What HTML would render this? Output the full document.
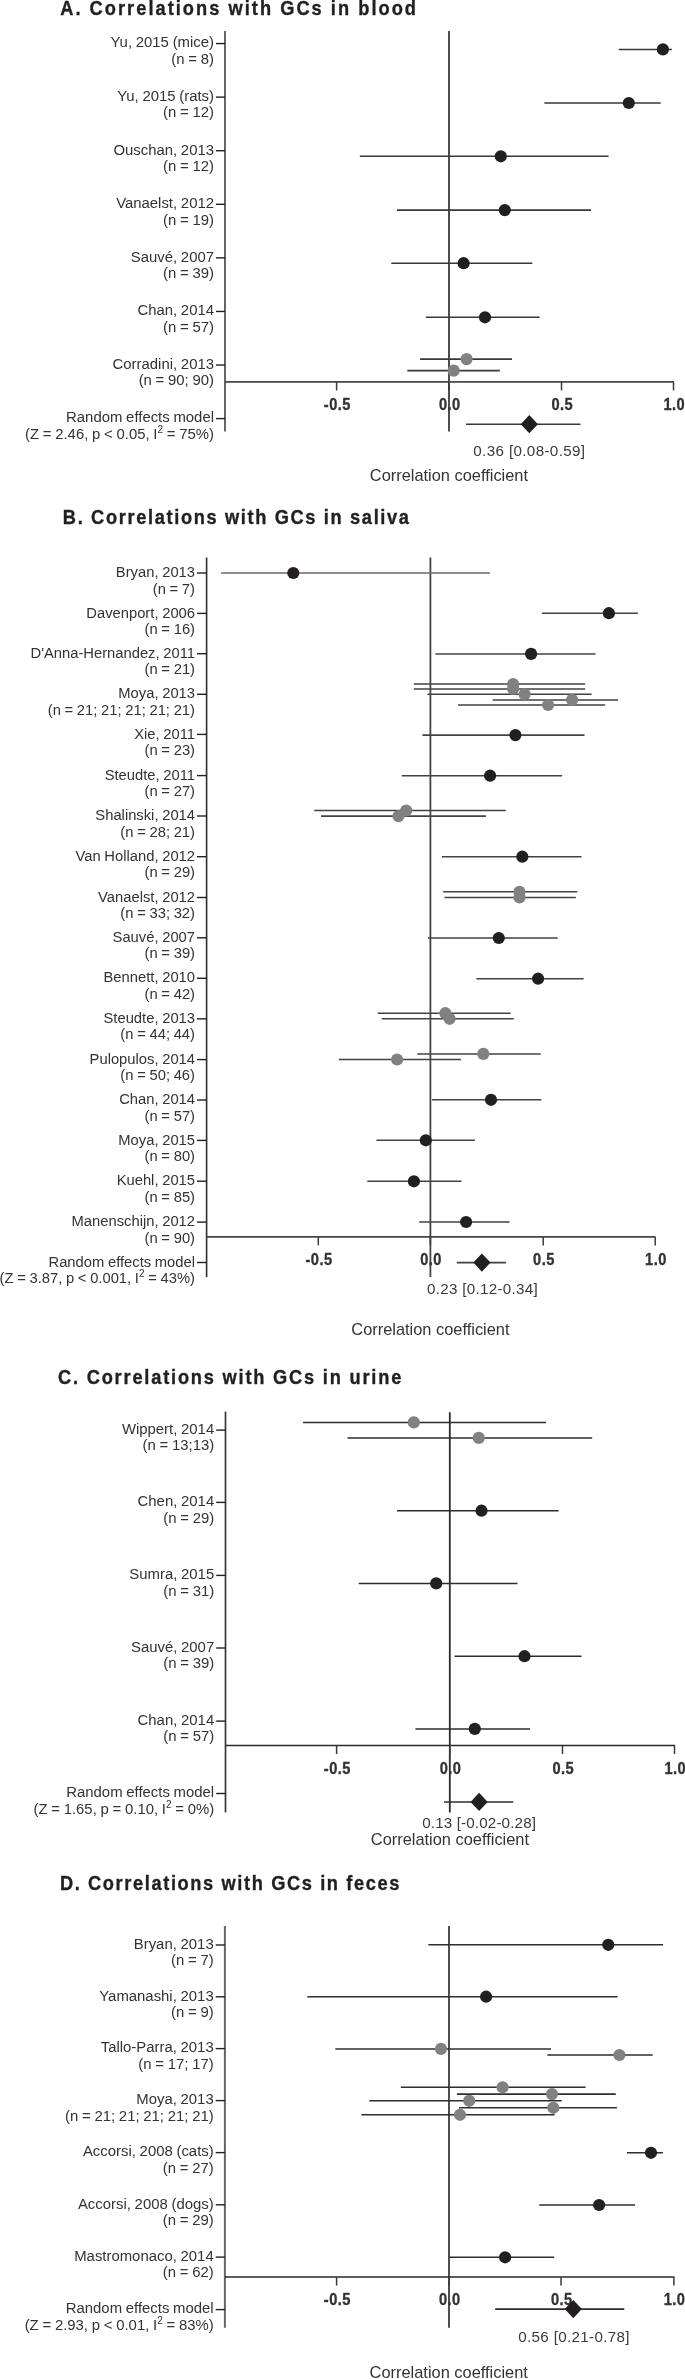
<!DOCTYPE html>
<html><head><meta charset="utf-8"><style>
html,body{margin:0;padding:0;background:#fff;}
body{width:685px;height:2379px;overflow:hidden;}
svg{display:block;font-family:"Liberation Sans",sans-serif;filter:blur(0.35px);}
</style></head><body>
<svg width="685" height="2379" viewBox="0 0 685 2379">
<rect width="685" height="2379" fill="#fff"/>
<text transform="translate(60.2,14.8) scale(0.94,1)" text-anchor="start" style="font-size:19.4px;font-weight:bold;stroke:#231f20;stroke-width:0.35px;letter-spacing:2.168px;" fill="#231f20">A. Correlations with GCs in blood</text>
<line x1="225" y1="31" x2="225" y2="431.5" stroke="#666" stroke-width="2.0"/>
<line x1="449" y1="31" x2="449" y2="431.5" stroke="#3a3a3a" stroke-width="1.8"/>
<line x1="225" y1="381.9" x2="674" y2="381.9" stroke="#484848" stroke-width="1.7"/>
<line x1="336.6" y1="381.9" x2="336.6" y2="390.4" stroke="#3a3a3a" stroke-width="1.5"/>
<text transform="translate(337.3,409.5) scale(0.87,1)" text-anchor="middle" style="font-size:16.8px;font-weight:bold;stroke:#333333;stroke-width:0.35px;letter-spacing:0.5px;" fill="#333333">-0.5</text>
<line x1="449" y1="381.9" x2="449" y2="390.4" stroke="#3a3a3a" stroke-width="1.5"/>
<text transform="translate(449.7,409.5) scale(0.87,1)" text-anchor="middle" style="font-size:16.8px;font-weight:bold;stroke:#333333;stroke-width:0.35px;letter-spacing:0.5px;" fill="#333333">0.0</text>
<line x1="561.5" y1="381.9" x2="561.5" y2="390.4" stroke="#3a3a3a" stroke-width="1.5"/>
<text transform="translate(562.2,409.5) scale(0.87,1)" text-anchor="middle" style="font-size:16.8px;font-weight:bold;stroke:#333333;stroke-width:0.35px;letter-spacing:0.5px;" fill="#333333">0.5</text>
<line x1="673.5" y1="381.9" x2="673.5" y2="390.4" stroke="#3a3a3a" stroke-width="1.5"/>
<text transform="translate(674.2,409.5) scale(0.87,1)" text-anchor="middle" style="font-size:16.8px;font-weight:bold;stroke:#333333;stroke-width:0.35px;letter-spacing:0.5px;" fill="#333333">1.0</text>
<line x1="216" y1="43.55" x2="225" y2="43.55" stroke="#231f20" stroke-width="1.4"/>
<text x="214" y="47.349999999999994" text-anchor="end" style="font-size:14.9px;font-weight:normal;word-spacing:-0.4px;" fill="#333333">Yu, 2015 (mice)</text>
<text x="214" y="63.849999999999994" text-anchor="end" style="font-size:14.9px;font-weight:normal;word-spacing:-0.4px;" fill="#333333">(n = 8)</text>
<line x1="216" y1="97.13" x2="225" y2="97.13" stroke="#231f20" stroke-width="1.4"/>
<text x="214" y="100.92999999999999" text-anchor="end" style="font-size:14.9px;font-weight:normal;word-spacing:-0.4px;" fill="#333333">Yu, 2015 (rats)</text>
<text x="214" y="117.42999999999999" text-anchor="end" style="font-size:14.9px;font-weight:normal;word-spacing:-0.4px;" fill="#333333">(n = 12)</text>
<line x1="216" y1="150.71" x2="225" y2="150.71" stroke="#231f20" stroke-width="1.4"/>
<text x="214" y="154.51000000000002" text-anchor="end" style="font-size:14.9px;font-weight:normal;word-spacing:-0.4px;" fill="#333333">Ouschan, 2013</text>
<text x="214" y="171.01000000000002" text-anchor="end" style="font-size:14.9px;font-weight:normal;word-spacing:-0.4px;" fill="#333333">(n = 12)</text>
<line x1="216" y1="204.29" x2="225" y2="204.29" stroke="#231f20" stroke-width="1.4"/>
<text x="214" y="208.09" text-anchor="end" style="font-size:14.9px;font-weight:normal;word-spacing:-0.4px;" fill="#333333">Vanaelst, 2012</text>
<text x="214" y="224.59" text-anchor="end" style="font-size:14.9px;font-weight:normal;word-spacing:-0.4px;" fill="#333333">(n = 19)</text>
<line x1="216" y1="257.87" x2="225" y2="257.87" stroke="#231f20" stroke-width="1.4"/>
<text x="214" y="261.67" text-anchor="end" style="font-size:14.9px;font-weight:normal;word-spacing:-0.4px;" fill="#333333">Sauvé, 2007</text>
<text x="214" y="278.17" text-anchor="end" style="font-size:14.9px;font-weight:normal;word-spacing:-0.4px;" fill="#333333">(n = 39)</text>
<line x1="216" y1="311.45" x2="225" y2="311.45" stroke="#231f20" stroke-width="1.4"/>
<text x="214" y="315.25" text-anchor="end" style="font-size:14.9px;font-weight:normal;word-spacing:-0.4px;" fill="#333333">Chan, 2014</text>
<text x="214" y="331.75" text-anchor="end" style="font-size:14.9px;font-weight:normal;word-spacing:-0.4px;" fill="#333333">(n = 57)</text>
<line x1="216" y1="365.03" x2="225" y2="365.03" stroke="#231f20" stroke-width="1.4"/>
<text x="214" y="368.83" text-anchor="end" style="font-size:14.9px;font-weight:normal;word-spacing:-0.4px;" fill="#333333">Corradini, 2013</text>
<text x="214" y="385.33" text-anchor="end" style="font-size:14.9px;font-weight:normal;word-spacing:-0.4px;" fill="#333333">(n = 90; 90)</text>
<line x1="216" y1="418.61" x2="225" y2="418.61" stroke="#231f20" stroke-width="1.4"/>
<text x="214" y="422.41" text-anchor="end" style="font-size:14.9px;font-weight:normal;word-spacing:-0.4px;" fill="#333333">Random effects model</text>
<text x="214" y="438.91" text-anchor="end" style="font-size:14.9px;font-weight:normal;word-spacing:-0.4px;" fill="#333333">(Z = 2.46, p &lt; 0.05, I<tspan dy="-6" font-size="10">2</tspan><tspan dy="6"> = 75%)</tspan></text>
<line x1="618.8" y1="49.4" x2="671.9" y2="49.4" stroke="#383838" stroke-width="1.55"/>
<line x1="544.4" y1="103" x2="660.7" y2="103" stroke="#383838" stroke-width="1.55"/>
<line x1="359.8" y1="156.3" x2="608.6" y2="156.3" stroke="#383838" stroke-width="1.55"/>
<line x1="397" y1="210.1" x2="591" y2="210.1" stroke="#383838" stroke-width="1.55"/>
<line x1="391.3" y1="263.2" x2="532.4" y2="263.2" stroke="#383838" stroke-width="1.55"/>
<line x1="425.9" y1="317.3" x2="539.6" y2="317.3" stroke="#383838" stroke-width="1.55"/>
<line x1="420.1" y1="359.1" x2="512" y2="359.1" stroke="#383838" stroke-width="1.55"/>
<line x1="407.3" y1="370.6" x2="499.8" y2="370.6" stroke="#383838" stroke-width="1.55"/>
<circle cx="662.9" cy="49.4" r="6.1" fill="#231f20"/>
<circle cx="628.8" cy="103" r="6.1" fill="#231f20"/>
<circle cx="500.8" cy="156.3" r="6.1" fill="#231f20"/>
<circle cx="504.8" cy="210.1" r="6.1" fill="#231f20"/>
<circle cx="463.6" cy="263.2" r="6.1" fill="#231f20"/>
<circle cx="485" cy="317.3" r="6.1" fill="#231f20"/>
<circle cx="466.6" cy="359.1" r="6.1" fill="#818184"/>
<circle cx="453.7" cy="370.6" r="6.1" fill="#818184"/>
<line x1="466" y1="424.2" x2="580.5" y2="424.2" stroke="#383838" stroke-width="1.55"/>
<polygon points="520.6999999999999,424.2 529.3,415.09999999999997 537.9,424.2 529.3,433.3" fill="#231f20"/>
<text x="473.3" y="456.3" text-anchor="start" style="font-size:15.2px;font-weight:normal;letter-spacing:0.36px;" fill="#3a3a3a">0.36 [0.08-0.59]</text>
<text x="369.8" y="481" text-anchor="start" style="font-size:16.4px;font-weight:normal;" fill="#333333">Correlation coefficient</text>
<text transform="translate(62.85,524.0) scale(0.94,1)" text-anchor="start" style="font-size:19.4px;font-weight:bold;stroke:#231f20;stroke-width:0.35px;letter-spacing:1.757px;" fill="#231f20">B. Correlations with GCs in saliva</text>
<line x1="206.6" y1="557.5" x2="206.6" y2="1277" stroke="#2e2e2e" stroke-width="1.6"/>
<line x1="430.4" y1="557.5" x2="430.4" y2="1277" stroke="#444" stroke-width="1.8"/>
<line x1="206.6" y1="1236.9" x2="655.5" y2="1236.9" stroke="#444" stroke-width="1.7"/>
<line x1="318.3" y1="1236.9" x2="318.3" y2="1245.4" stroke="#3a3a3a" stroke-width="1.5"/>
<text transform="translate(319.0,1265) scale(0.87,1)" text-anchor="middle" style="font-size:16.8px;font-weight:bold;stroke:#333333;stroke-width:0.35px;letter-spacing:0.5px;" fill="#333333">-0.5</text>
<line x1="430.4" y1="1236.9" x2="430.4" y2="1245.4" stroke="#3a3a3a" stroke-width="1.5"/>
<text transform="translate(431.09999999999997,1265) scale(0.87,1)" text-anchor="middle" style="font-size:16.8px;font-weight:bold;stroke:#333333;stroke-width:0.35px;letter-spacing:0.5px;" fill="#333333">0.0</text>
<line x1="543.2" y1="1236.9" x2="543.2" y2="1245.4" stroke="#3a3a3a" stroke-width="1.5"/>
<text transform="translate(543.9000000000001,1265) scale(0.87,1)" text-anchor="middle" style="font-size:16.8px;font-weight:bold;stroke:#333333;stroke-width:0.35px;letter-spacing:0.5px;" fill="#333333">0.5</text>
<line x1="655.2" y1="1236.9" x2="655.2" y2="1245.4" stroke="#3a3a3a" stroke-width="1.5"/>
<text transform="translate(655.9000000000001,1265) scale(0.87,1)" text-anchor="middle" style="font-size:16.8px;font-weight:bold;stroke:#333333;stroke-width:0.35px;letter-spacing:0.5px;" fill="#333333">1.0</text>
<line x1="197" y1="573.0" x2="206.6" y2="573.0" stroke="#231f20" stroke-width="1.4"/>
<text x="195" y="577.1" text-anchor="end" style="font-size:14.75px;font-weight:normal;word-spacing:-0.4px;" fill="#333333">Bryan, 2013</text>
<text x="195" y="593.6" text-anchor="end" style="font-size:14.75px;font-weight:normal;word-spacing:-0.4px;" fill="#333333">(n = 7)</text>
<line x1="197" y1="613.4" x2="206.6" y2="613.4" stroke="#231f20" stroke-width="1.4"/>
<text x="195" y="617.5" text-anchor="end" style="font-size:14.75px;font-weight:normal;word-spacing:-0.4px;" fill="#333333">Davenport, 2006</text>
<text x="195" y="634.0" text-anchor="end" style="font-size:14.75px;font-weight:normal;word-spacing:-0.4px;" fill="#333333">(n = 16)</text>
<line x1="197" y1="653.7" x2="206.6" y2="653.7" stroke="#231f20" stroke-width="1.4"/>
<text x="195" y="657.8000000000001" text-anchor="end" style="font-size:14.75px;font-weight:normal;word-spacing:-0.4px;" fill="#333333">D'Anna-Hernandez, 2011</text>
<text x="195" y="674.3000000000001" text-anchor="end" style="font-size:14.75px;font-weight:normal;word-spacing:-0.4px;" fill="#333333">(n = 21)</text>
<line x1="197" y1="694.3" x2="206.6" y2="694.3" stroke="#231f20" stroke-width="1.4"/>
<text x="195" y="698.4" text-anchor="end" style="font-size:14.75px;font-weight:normal;word-spacing:-0.4px;" fill="#333333">Moya, 2013</text>
<text x="195" y="714.9" text-anchor="end" style="font-size:14.75px;font-weight:normal;word-spacing:-0.4px;" fill="#333333">(n = 21; 21; 21; 21; 21)</text>
<line x1="197" y1="734.4" x2="206.6" y2="734.4" stroke="#231f20" stroke-width="1.4"/>
<text x="195" y="738.5" text-anchor="end" style="font-size:14.75px;font-weight:normal;word-spacing:-0.4px;" fill="#333333">Xie, 2011</text>
<text x="195" y="755.0" text-anchor="end" style="font-size:14.75px;font-weight:normal;word-spacing:-0.4px;" fill="#333333">(n = 23)</text>
<line x1="197" y1="775.6" x2="206.6" y2="775.6" stroke="#231f20" stroke-width="1.4"/>
<text x="195" y="779.7" text-anchor="end" style="font-size:14.75px;font-weight:normal;word-spacing:-0.4px;" fill="#333333">Steudte, 2011</text>
<text x="195" y="796.2" text-anchor="end" style="font-size:14.75px;font-weight:normal;word-spacing:-0.4px;" fill="#333333">(n = 27)</text>
<line x1="197" y1="816.0" x2="206.6" y2="816.0" stroke="#231f20" stroke-width="1.4"/>
<text x="195" y="820.1" text-anchor="end" style="font-size:14.75px;font-weight:normal;word-spacing:-0.4px;" fill="#333333">Shalinski, 2014</text>
<text x="195" y="836.6" text-anchor="end" style="font-size:14.75px;font-weight:normal;word-spacing:-0.4px;" fill="#333333">(n = 28; 21)</text>
<line x1="197" y1="856.7" x2="206.6" y2="856.7" stroke="#231f20" stroke-width="1.4"/>
<text x="195" y="860.8000000000001" text-anchor="end" style="font-size:14.75px;font-weight:normal;word-spacing:-0.4px;" fill="#333333">Van Holland, 2012</text>
<text x="195" y="877.3000000000001" text-anchor="end" style="font-size:14.75px;font-weight:normal;word-spacing:-0.4px;" fill="#333333">(n = 29)</text>
<line x1="197" y1="897.5" x2="206.6" y2="897.5" stroke="#231f20" stroke-width="1.4"/>
<text x="195" y="901.6" text-anchor="end" style="font-size:14.75px;font-weight:normal;word-spacing:-0.4px;" fill="#333333">Vanaelst, 2012</text>
<text x="195" y="918.1" text-anchor="end" style="font-size:14.75px;font-weight:normal;word-spacing:-0.4px;" fill="#333333">(n = 33; 32)</text>
<line x1="197" y1="937.8" x2="206.6" y2="937.8" stroke="#231f20" stroke-width="1.4"/>
<text x="195" y="941.9" text-anchor="end" style="font-size:14.75px;font-weight:normal;word-spacing:-0.4px;" fill="#333333">Sauvé, 2007</text>
<text x="195" y="958.4" text-anchor="end" style="font-size:14.75px;font-weight:normal;word-spacing:-0.4px;" fill="#333333">(n = 39)</text>
<line x1="197" y1="978.3" x2="206.6" y2="978.3" stroke="#231f20" stroke-width="1.4"/>
<text x="195" y="982.4" text-anchor="end" style="font-size:14.75px;font-weight:normal;word-spacing:-0.4px;" fill="#333333">Bennett, 2010</text>
<text x="195" y="998.9" text-anchor="end" style="font-size:14.75px;font-weight:normal;word-spacing:-0.4px;" fill="#333333">(n = 42)</text>
<line x1="197" y1="1018.85" x2="206.6" y2="1018.85" stroke="#231f20" stroke-width="1.4"/>
<text x="195" y="1022.95" text-anchor="end" style="font-size:14.75px;font-weight:normal;word-spacing:-0.4px;" fill="#333333">Steudte, 2013</text>
<text x="195" y="1039.45" text-anchor="end" style="font-size:14.75px;font-weight:normal;word-spacing:-0.4px;" fill="#333333">(n = 44; 44)</text>
<line x1="197" y1="1059.6" x2="206.6" y2="1059.6" stroke="#231f20" stroke-width="1.4"/>
<text x="195" y="1063.6999999999998" text-anchor="end" style="font-size:14.75px;font-weight:normal;word-spacing:-0.4px;" fill="#333333">Pulopulos, 2014</text>
<text x="195" y="1080.1999999999998" text-anchor="end" style="font-size:14.75px;font-weight:normal;word-spacing:-0.4px;" fill="#333333">(n = 50; 46)</text>
<line x1="197" y1="1100.0" x2="206.6" y2="1100.0" stroke="#231f20" stroke-width="1.4"/>
<text x="195" y="1104.1" text-anchor="end" style="font-size:14.75px;font-weight:normal;word-spacing:-0.4px;" fill="#333333">Chan, 2014</text>
<text x="195" y="1120.6" text-anchor="end" style="font-size:14.75px;font-weight:normal;word-spacing:-0.4px;" fill="#333333">(n = 57)</text>
<line x1="197" y1="1140.4" x2="206.6" y2="1140.4" stroke="#231f20" stroke-width="1.4"/>
<text x="195" y="1144.5" text-anchor="end" style="font-size:14.75px;font-weight:normal;word-spacing:-0.4px;" fill="#333333">Moya, 2015</text>
<text x="195" y="1161.0" text-anchor="end" style="font-size:14.75px;font-weight:normal;word-spacing:-0.4px;" fill="#333333">(n = 80)</text>
<line x1="197" y1="1181.2" x2="206.6" y2="1181.2" stroke="#231f20" stroke-width="1.4"/>
<text x="195" y="1185.3" text-anchor="end" style="font-size:14.75px;font-weight:normal;word-spacing:-0.4px;" fill="#333333">Kuehl, 2015</text>
<text x="195" y="1201.8" text-anchor="end" style="font-size:14.75px;font-weight:normal;word-spacing:-0.4px;" fill="#333333">(n = 85)</text>
<line x1="197" y1="1222.1" x2="206.6" y2="1222.1" stroke="#231f20" stroke-width="1.4"/>
<text x="195" y="1226.1999999999998" text-anchor="end" style="font-size:14.75px;font-weight:normal;word-spacing:-0.4px;" fill="#333333">Manenschijn, 2012</text>
<text x="195" y="1242.6999999999998" text-anchor="end" style="font-size:14.75px;font-weight:normal;word-spacing:-0.4px;" fill="#333333">(n = 90)</text>
<line x1="197" y1="1262.5" x2="206.6" y2="1262.5" stroke="#231f20" stroke-width="1.4"/>
<text x="195" y="1266.6" text-anchor="end" style="font-size:14.75px;font-weight:normal;word-spacing:-0.4px;" fill="#333333">Random effects model</text>
<text x="195" y="1283.1" text-anchor="end" style="font-size:14.75px;font-weight:normal;word-spacing:-0.4px;" fill="#333333">(Z = 3.87, p &lt; 0.001, I<tspan dy="-6" font-size="10">2</tspan><tspan dy="6"> = 43%)</tspan></text>
<line x1="221" y1="573" x2="490" y2="573" stroke="#6a6a6a" stroke-width="1.55"/>
<line x1="541.9" y1="613.2" x2="637.9" y2="613.2" stroke="#424242" stroke-width="1.55"/>
<line x1="435.4" y1="653.9" x2="595.5" y2="653.9" stroke="#424242" stroke-width="1.55"/>
<line x1="413.8" y1="684.0" x2="585.2" y2="684.0" stroke="#424242" stroke-width="1.55"/>
<line x1="413.8" y1="688.9" x2="585.2" y2="688.9" stroke="#424242" stroke-width="1.55"/>
<line x1="427.4" y1="694.3" x2="591.7" y2="694.3" stroke="#424242" stroke-width="1.55"/>
<line x1="492.6" y1="699.9" x2="618.0" y2="699.9" stroke="#424242" stroke-width="1.55"/>
<line x1="458.1" y1="705.0" x2="605.2" y2="705.0" stroke="#424242" stroke-width="1.55"/>
<line x1="422.4" y1="735.1" x2="584.5" y2="735.1" stroke="#424242" stroke-width="1.55"/>
<line x1="401.8" y1="775.7" x2="562.1" y2="775.7" stroke="#424242" stroke-width="1.55"/>
<line x1="314.2" y1="810.5" x2="505.8" y2="810.5" stroke="#424242" stroke-width="1.55"/>
<line x1="321" y1="816.1" x2="485.9" y2="816.1" stroke="#424242" stroke-width="1.55"/>
<line x1="442" y1="856.7" x2="581.5" y2="856.7" stroke="#424242" stroke-width="1.55"/>
<line x1="443.1" y1="891.8" x2="577.3" y2="891.8" stroke="#424242" stroke-width="1.55"/>
<line x1="444.5" y1="897.4" x2="575.9" y2="897.4" stroke="#424242" stroke-width="1.55"/>
<line x1="428" y1="938" x2="557.7" y2="938" stroke="#424242" stroke-width="1.55"/>
<line x1="476.4" y1="978.7" x2="583.6" y2="978.7" stroke="#424242" stroke-width="1.55"/>
<line x1="377.8" y1="1013.2" x2="510.6" y2="1013.2" stroke="#424242" stroke-width="1.55"/>
<line x1="381.7" y1="1018.8" x2="513.8" y2="1018.8" stroke="#424242" stroke-width="1.55"/>
<line x1="417.4" y1="1053.9" x2="540.7" y2="1053.9" stroke="#424242" stroke-width="1.55"/>
<line x1="338.9" y1="1059.5" x2="460.9" y2="1059.5" stroke="#424242" stroke-width="1.55"/>
<line x1="432.1" y1="1099.8" x2="541.4" y2="1099.8" stroke="#424242" stroke-width="1.55"/>
<line x1="376.4" y1="1140.3" x2="474.9" y2="1140.3" stroke="#424242" stroke-width="1.55"/>
<line x1="367.3" y1="1181.3" x2="461.6" y2="1181.3" stroke="#424242" stroke-width="1.55"/>
<line x1="419.2" y1="1222" x2="509.6" y2="1222" stroke="#424242" stroke-width="1.55"/>
<circle cx="293.3" cy="573" r="6.1" fill="#231f20"/>
<circle cx="608.9" cy="613.2" r="6.1" fill="#231f20"/>
<circle cx="531.1" cy="653.9" r="6.1" fill="#231f20"/>
<circle cx="513.1" cy="684.0" r="6.1" fill="#818184"/>
<circle cx="513.1" cy="688.9" r="6.1" fill="#818184"/>
<circle cx="524.6" cy="694.3" r="6.1" fill="#818184"/>
<circle cx="572.1" cy="699.9" r="6.1" fill="#818184"/>
<circle cx="548.1" cy="705.0" r="6.1" fill="#818184"/>
<circle cx="515.4" cy="735.1" r="6.1" fill="#231f20"/>
<circle cx="490.1" cy="775.7" r="6.1" fill="#231f20"/>
<circle cx="406.2" cy="810.5" r="6.1" fill="#818184"/>
<circle cx="398.5" cy="816.1" r="6.1" fill="#818184"/>
<circle cx="522.3" cy="856.7" r="6.1" fill="#231f20"/>
<circle cx="519.5" cy="891.8" r="6.1" fill="#818184"/>
<circle cx="519.5" cy="897.4" r="6.1" fill="#818184"/>
<circle cx="498.8" cy="938" r="6.1" fill="#231f20"/>
<circle cx="538.1" cy="978.7" r="6.1" fill="#231f20"/>
<circle cx="445.4" cy="1013.2" r="6.1" fill="#818184"/>
<circle cx="449.6" cy="1018.8" r="6.1" fill="#818184"/>
<circle cx="483.3" cy="1053.9" r="6.1" fill="#818184"/>
<circle cx="397.1" cy="1059.5" r="6.1" fill="#818184"/>
<circle cx="491" cy="1099.8" r="6.1" fill="#231f20"/>
<circle cx="425.8" cy="1140.3" r="6.1" fill="#231f20"/>
<circle cx="413.9" cy="1181.3" r="6.1" fill="#231f20"/>
<circle cx="466.1" cy="1222" r="6.1" fill="#231f20"/>
<line x1="456.7" y1="1262.6" x2="506.1" y2="1262.6" stroke="#424242" stroke-width="1.55"/>
<polygon points="473.29999999999995,1262.6 481.9,1253.5 490.5,1262.6 481.9,1271.6999999999998" fill="#231f20"/>
<text x="426.9" y="1293.8" text-anchor="start" style="font-size:15.2px;font-weight:normal;letter-spacing:0.293px;" fill="#3a3a3a">0.23 [0.12-0.34]</text>
<text x="351.3" y="1334.6" text-anchor="start" style="font-size:16.4px;font-weight:normal;" fill="#333333">Correlation coefficient</text>
<text transform="translate(58.0,1383.7) scale(0.94,1)" text-anchor="start" style="font-size:19.4px;font-weight:bold;stroke:#231f20;stroke-width:0.35px;letter-spacing:1.92px;" fill="#231f20">C. Correlations with GCs in urine</text>
<line x1="225.5" y1="1411.5" x2="225.5" y2="1812.6" stroke="#3a3a3a" stroke-width="1.7"/>
<line x1="449.8" y1="1412.2" x2="449.8" y2="1812.6" stroke="#2a2a2a" stroke-width="1.8"/>
<line x1="225.5" y1="1745.5" x2="675" y2="1745.5" stroke="#2a2a2a" stroke-width="1.5"/>
<line x1="336.6" y1="1745.5" x2="336.6" y2="1754.0" stroke="#3a3a3a" stroke-width="1.5"/>
<text transform="translate(337.3,1773.6) scale(0.87,1)" text-anchor="middle" style="font-size:16.8px;font-weight:bold;stroke:#333333;stroke-width:0.35px;letter-spacing:0.5px;" fill="#333333">-0.5</text>
<line x1="449.8" y1="1745.5" x2="449.8" y2="1754.0" stroke="#3a3a3a" stroke-width="1.5"/>
<text transform="translate(450.5,1773.6) scale(0.87,1)" text-anchor="middle" style="font-size:16.8px;font-weight:bold;stroke:#333333;stroke-width:0.35px;letter-spacing:0.5px;" fill="#333333">0.0</text>
<line x1="562.5" y1="1745.5" x2="562.5" y2="1754.0" stroke="#3a3a3a" stroke-width="1.5"/>
<text transform="translate(563.2,1773.6) scale(0.87,1)" text-anchor="middle" style="font-size:16.8px;font-weight:bold;stroke:#333333;stroke-width:0.35px;letter-spacing:0.5px;" fill="#333333">0.5</text>
<line x1="674.5" y1="1745.5" x2="674.5" y2="1754.0" stroke="#3a3a3a" stroke-width="1.5"/>
<text transform="translate(675.2,1773.6) scale(0.87,1)" text-anchor="middle" style="font-size:16.8px;font-weight:bold;stroke:#333333;stroke-width:0.35px;letter-spacing:0.5px;" fill="#333333">1.0</text>
<line x1="216.2" y1="1430.1" x2="225.5" y2="1430.1" stroke="#231f20" stroke-width="1.4"/>
<text x="214.2" y="1433.8999999999999" text-anchor="end" style="font-size:14.9px;font-weight:normal;word-spacing:-0.4px;" fill="#333333">Wippert, 2014</text>
<text x="214.2" y="1450.3999999999999" text-anchor="end" style="font-size:14.9px;font-weight:normal;word-spacing:-0.4px;" fill="#333333">(n = 13;13)</text>
<line x1="216.2" y1="1502.4" x2="225.5" y2="1502.4" stroke="#231f20" stroke-width="1.4"/>
<text x="214.2" y="1506.2" text-anchor="end" style="font-size:14.9px;font-weight:normal;word-spacing:-0.4px;" fill="#333333">Chen, 2014</text>
<text x="214.2" y="1522.7" text-anchor="end" style="font-size:14.9px;font-weight:normal;word-spacing:-0.4px;" fill="#333333">(n = 29)</text>
<line x1="216.2" y1="1575.4" x2="225.5" y2="1575.4" stroke="#231f20" stroke-width="1.4"/>
<text x="214.2" y="1579.2" text-anchor="end" style="font-size:14.9px;font-weight:normal;word-spacing:-0.4px;" fill="#333333">Sumra, 2015</text>
<text x="214.2" y="1595.7" text-anchor="end" style="font-size:14.9px;font-weight:normal;word-spacing:-0.4px;" fill="#333333">(n = 31)</text>
<line x1="216.2" y1="1648.0" x2="225.5" y2="1648.0" stroke="#231f20" stroke-width="1.4"/>
<text x="214.2" y="1651.8" text-anchor="end" style="font-size:14.9px;font-weight:normal;word-spacing:-0.4px;" fill="#333333">Sauvé, 2007</text>
<text x="214.2" y="1668.3" text-anchor="end" style="font-size:14.9px;font-weight:normal;word-spacing:-0.4px;" fill="#333333">(n = 39)</text>
<line x1="216.2" y1="1721.1" x2="225.5" y2="1721.1" stroke="#231f20" stroke-width="1.4"/>
<text x="214.2" y="1724.8999999999999" text-anchor="end" style="font-size:14.9px;font-weight:normal;word-spacing:-0.4px;" fill="#333333">Chan, 2014</text>
<text x="214.2" y="1741.3999999999999" text-anchor="end" style="font-size:14.9px;font-weight:normal;word-spacing:-0.4px;" fill="#333333">(n = 57)</text>
<line x1="216.2" y1="1793.5" x2="225.5" y2="1793.5" stroke="#231f20" stroke-width="1.4"/>
<text x="214.2" y="1797.3" text-anchor="end" style="font-size:14.9px;font-weight:normal;word-spacing:-0.4px;" fill="#333333">Random effects model</text>
<text x="214.2" y="1813.8" text-anchor="end" style="font-size:14.9px;font-weight:normal;word-spacing:-0.4px;" fill="#333333">(Z = 1.65, p = 0.10, I<tspan dy="-6" font-size="10">2</tspan><tspan dy="6"> = 0%)</tspan></text>
<line x1="303.1" y1="1422.4" x2="546" y2="1422.4" stroke="#2c2c2c" stroke-width="1.55"/>
<line x1="347.5" y1="1437.9" x2="592.2" y2="1437.9" stroke="#2c2c2c" stroke-width="1.55"/>
<line x1="397" y1="1510.7" x2="558.6" y2="1510.7" stroke="#2c2c2c" stroke-width="1.55"/>
<line x1="358.7" y1="1583.4" x2="517.5" y2="1583.4" stroke="#2c2c2c" stroke-width="1.55"/>
<line x1="454.5" y1="1656.2" x2="581.5" y2="1656.2" stroke="#2c2c2c" stroke-width="1.55"/>
<line x1="415.4" y1="1728.9" x2="530" y2="1728.9" stroke="#2c2c2c" stroke-width="1.55"/>
<circle cx="413.8" cy="1422.4" r="6.1" fill="#818184"/>
<circle cx="478.8" cy="1437.9" r="6.1" fill="#818184"/>
<circle cx="481.5" cy="1510.7" r="6.1" fill="#231f20"/>
<circle cx="436.2" cy="1583.4" r="6.1" fill="#231f20"/>
<circle cx="524.5" cy="1656.2" r="6.1" fill="#231f20"/>
<circle cx="474.8" cy="1728.9" r="6.1" fill="#231f20"/>
<line x1="444.1" y1="1801.9" x2="513.3" y2="1801.9" stroke="#2c2c2c" stroke-width="1.55"/>
<polygon points="470.5,1801.9 479.1,1792.8000000000002 487.70000000000005,1801.9 479.1,1811.0" fill="#231f20"/>
<text x="422.2" y="1828.0" text-anchor="start" style="font-size:15.2px;font-weight:normal;letter-spacing:0.144px;" fill="#3a3a3a">0.13 [-0.02-0.28]</text>
<text x="370.8" y="1845.0" text-anchor="start" style="font-size:16.4px;font-weight:normal;" fill="#333333">Correlation coefficient</text>
<text transform="translate(59.9,1889.6) scale(0.94,1)" text-anchor="start" style="font-size:19.4px;font-weight:bold;stroke:#231f20;stroke-width:0.35px;letter-spacing:1.725px;" fill="#231f20">D. Correlations with GCs in feces</text>
<line x1="224.9" y1="1926" x2="224.9" y2="2327.7" stroke="#666" stroke-width="2.0"/>
<line x1="449" y1="1926" x2="449" y2="2327.7" stroke="#3a3a3a" stroke-width="1.8"/>
<line x1="224.9" y1="2277.1" x2="674.5" y2="2277.1" stroke="#262626" stroke-width="1.5"/>
<line x1="336.6" y1="2277.1" x2="336.6" y2="2285.6" stroke="#3a3a3a" stroke-width="1.5"/>
<text transform="translate(337.3,2305.4) scale(0.87,1)" text-anchor="middle" style="font-size:16.8px;font-weight:bold;stroke:#333333;stroke-width:0.35px;letter-spacing:0.5px;" fill="#333333">-0.5</text>
<line x1="449" y1="2277.1" x2="449" y2="2285.6" stroke="#3a3a3a" stroke-width="1.5"/>
<text transform="translate(449.7,2305.4) scale(0.87,1)" text-anchor="middle" style="font-size:16.8px;font-weight:bold;stroke:#333333;stroke-width:0.35px;letter-spacing:0.5px;" fill="#333333">0.0</text>
<line x1="561" y1="2277.1" x2="561" y2="2285.6" stroke="#3a3a3a" stroke-width="1.5"/>
<text transform="translate(561.7,2305.4) scale(0.87,1)" text-anchor="middle" style="font-size:16.8px;font-weight:bold;stroke:#333333;stroke-width:0.35px;letter-spacing:0.5px;" fill="#333333">0.5</text>
<line x1="673.9" y1="2277.1" x2="673.9" y2="2285.6" stroke="#3a3a3a" stroke-width="1.5"/>
<text transform="translate(674.6,2305.4) scale(0.87,1)" text-anchor="middle" style="font-size:16.8px;font-weight:bold;stroke:#333333;stroke-width:0.35px;letter-spacing:0.5px;" fill="#333333">1.0</text>
<line x1="215.7" y1="1945.0" x2="224.9" y2="1945.0" stroke="#231f20" stroke-width="1.4"/>
<text x="213.7" y="1948.8" text-anchor="end" style="font-size:14.9px;font-weight:normal;word-spacing:-0.4px;" fill="#333333">Bryan, 2013</text>
<text x="213.7" y="1965.3" text-anchor="end" style="font-size:14.9px;font-weight:normal;word-spacing:-0.4px;" fill="#333333">(n = 7)</text>
<line x1="215.7" y1="1996.8" x2="224.9" y2="1996.8" stroke="#231f20" stroke-width="1.4"/>
<text x="213.7" y="2000.6" text-anchor="end" style="font-size:14.9px;font-weight:normal;word-spacing:-0.4px;" fill="#333333">Yamanashi, 2013</text>
<text x="213.7" y="2017.1" text-anchor="end" style="font-size:14.9px;font-weight:normal;word-spacing:-0.4px;" fill="#333333">(n = 9)</text>
<line x1="215.7" y1="2048.6" x2="224.9" y2="2048.6" stroke="#231f20" stroke-width="1.4"/>
<text x="213.7" y="2052.4" text-anchor="end" style="font-size:14.9px;font-weight:normal;word-spacing:-0.4px;" fill="#333333">Tallo-Parra, 2013</text>
<text x="213.7" y="2068.9" text-anchor="end" style="font-size:14.9px;font-weight:normal;word-spacing:-0.4px;" fill="#333333">(n = 17; 17)</text>
<line x1="215.7" y1="2100.6" x2="224.9" y2="2100.6" stroke="#231f20" stroke-width="1.4"/>
<text x="213.7" y="2104.4" text-anchor="end" style="font-size:14.9px;font-weight:normal;word-spacing:-0.4px;" fill="#333333">Moya, 2013</text>
<text x="213.7" y="2120.9" text-anchor="end" style="font-size:14.9px;font-weight:normal;word-spacing:-0.4px;" fill="#333333">(n = 21; 21; 21; 21; 21)</text>
<line x1="215.7" y1="2152.6" x2="224.9" y2="2152.6" stroke="#231f20" stroke-width="1.4"/>
<text x="213.7" y="2156.4" text-anchor="end" style="font-size:14.9px;font-weight:normal;word-spacing:-0.4px;" fill="#333333">Accorsi, 2008 (cats)</text>
<text x="213.7" y="2172.9" text-anchor="end" style="font-size:14.9px;font-weight:normal;word-spacing:-0.4px;" fill="#333333">(n = 27)</text>
<line x1="215.7" y1="2204.8" x2="224.9" y2="2204.8" stroke="#231f20" stroke-width="1.4"/>
<text x="213.7" y="2208.6000000000004" text-anchor="end" style="font-size:14.9px;font-weight:normal;word-spacing:-0.4px;" fill="#333333">Accorsi, 2008 (dogs)</text>
<text x="213.7" y="2225.1000000000004" text-anchor="end" style="font-size:14.9px;font-weight:normal;word-spacing:-0.4px;" fill="#333333">(n = 29)</text>
<line x1="215.7" y1="2257.1" x2="224.9" y2="2257.1" stroke="#231f20" stroke-width="1.4"/>
<text x="213.7" y="2260.9" text-anchor="end" style="font-size:14.9px;font-weight:normal;word-spacing:-0.4px;" fill="#333333">Mastromonaco, 2014</text>
<text x="213.7" y="2277.4" text-anchor="end" style="font-size:14.9px;font-weight:normal;word-spacing:-0.4px;" fill="#333333">(n = 62)</text>
<line x1="215.7" y1="2309.6" x2="224.9" y2="2309.6" stroke="#231f20" stroke-width="1.4"/>
<text x="213.7" y="2313.4" text-anchor="end" style="font-size:14.9px;font-weight:normal;word-spacing:-0.4px;" fill="#333333">Random effects model</text>
<text x="213.7" y="2329.9" text-anchor="end" style="font-size:14.9px;font-weight:normal;word-spacing:-0.4px;" fill="#333333">(Z = 2.93, p &lt; 0.01, I<tspan dy="-6" font-size="10">2</tspan><tspan dy="6"> = 83%)</tspan></text>
<line x1="428.4" y1="1944.8" x2="663.1" y2="1944.8" stroke="#2e2e2e" stroke-width="1.55"/>
<line x1="307.3" y1="1996.7" x2="617.6" y2="1996.7" stroke="#2e2e2e" stroke-width="1.55"/>
<line x1="335.3" y1="2048.9" x2="551" y2="2048.9" stroke="#2e2e2e" stroke-width="1.55"/>
<line x1="547.4" y1="2055.0" x2="652.7" y2="2055.0" stroke="#2e2e2e" stroke-width="1.55"/>
<line x1="400.8" y1="2087.3" x2="585.6" y2="2087.3" stroke="#2e2e2e" stroke-width="1.55"/>
<line x1="456.9" y1="2094.1" x2="615.8" y2="2094.1" stroke="#2e2e2e" stroke-width="1.55"/>
<line x1="369.3" y1="2100.8" x2="561.7" y2="2100.8" stroke="#2e2e2e" stroke-width="1.55"/>
<line x1="459" y1="2107.8" x2="616.9" y2="2107.8" stroke="#2e2e2e" stroke-width="1.55"/>
<line x1="361.4" y1="2114.8" x2="554.6" y2="2114.8" stroke="#2e2e2e" stroke-width="1.55"/>
<line x1="627" y1="2152.8" x2="662.9" y2="2152.8" stroke="#2e2e2e" stroke-width="1.55"/>
<line x1="539.2" y1="2205" x2="635.1" y2="2205" stroke="#2e2e2e" stroke-width="1.55"/>
<line x1="449" y1="2257.3" x2="554.2" y2="2257.3" stroke="#2e2e2e" stroke-width="1.55"/>
<circle cx="608.3" cy="1944.8" r="6.1" fill="#231f20"/>
<circle cx="486.1" cy="1996.7" r="6.1" fill="#231f20"/>
<circle cx="441.0" cy="2048.9" r="6.1" fill="#818184"/>
<circle cx="619.4" cy="2055.0" r="6.1" fill="#818184"/>
<circle cx="502.6" cy="2087.3" r="6.1" fill="#818184"/>
<circle cx="552" cy="2094.1" r="6.1" fill="#818184"/>
<circle cx="469.2" cy="2100.8" r="6.1" fill="#818184"/>
<circle cx="553.3" cy="2107.8" r="6.1" fill="#818184"/>
<circle cx="460" cy="2114.8" r="6.1" fill="#818184"/>
<circle cx="651" cy="2152.8" r="6.1" fill="#231f20"/>
<circle cx="599.1" cy="2205" r="6.1" fill="#231f20"/>
<circle cx="505.1" cy="2257.3" r="6.1" fill="#231f20"/>
<line x1="495.2" y1="2309.1" x2="624.3" y2="2309.1" stroke="#2e2e2e" stroke-width="1.55"/>
<polygon points="564.6999999999999,2309.1 573.3,2300.0 581.9,2309.1 573.3,2318.2" fill="#231f20"/>
<text x="518.2" y="2341.9" text-anchor="start" style="font-size:15.2px;font-weight:normal;letter-spacing:0.333px;" fill="#3a3a3a">0.56 [0.21-0.78]</text>
<text x="369.6" y="2377.7" text-anchor="start" style="font-size:16.4px;font-weight:normal;" fill="#333333">Correlation coefficient</text>
</svg>
</body></html>
